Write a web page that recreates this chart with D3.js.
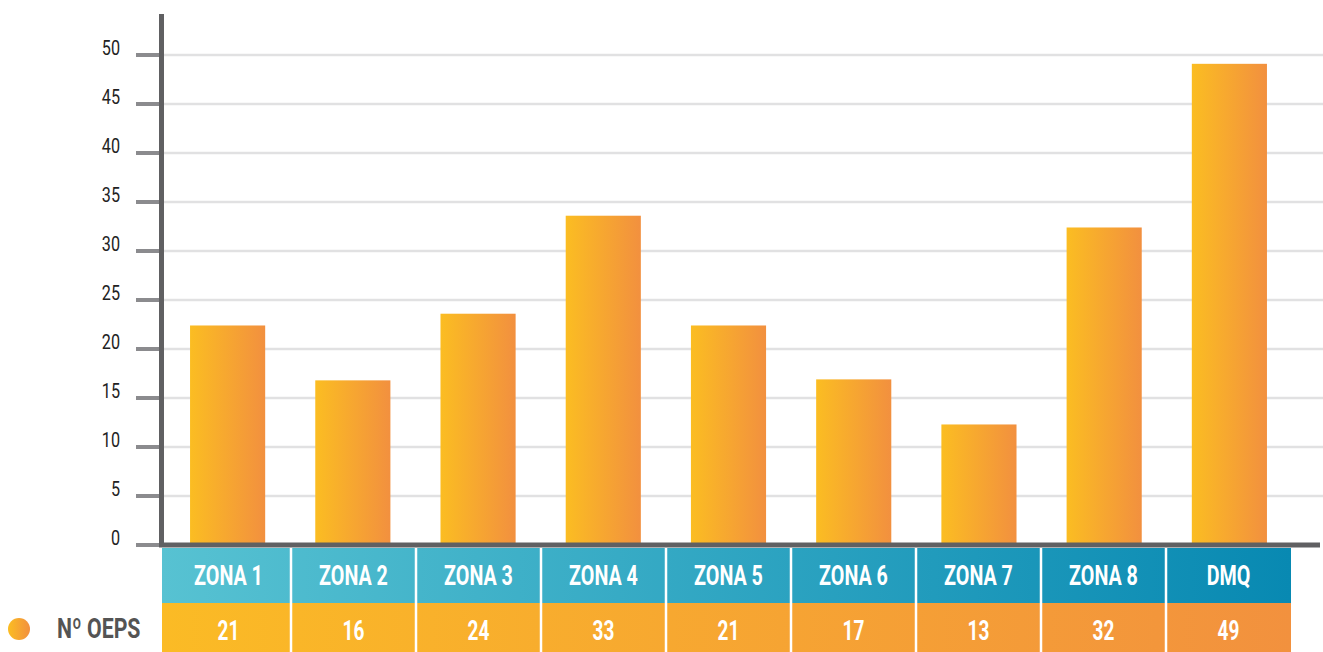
<!DOCTYPE html>
<html>
<head>
<meta charset="utf-8">
<script src="https://cdn.jsdelivr.net/npm/d3@7"></script>
<style>
  body { margin: 0; background: #fff; }
  svg { display: block; }
  text { font-family: Roboto, "Noto Sans", sans-serif; }
</style>
</head>
<body>
<svg width="1323" height="652"></svg>
<script>
// categories and values
const zones = ["ZONA 1", "ZONA 2", "ZONA 3", "ZONA 4", "ZONA 5", "ZONA 6", "ZONA 7", "ZONA 8", "DMQ"];
// table numbers
const oeps = [21, 16, 24, 33, 21, 17, 13, 32, 49];
// bar heights as drawn in the picture (they don't quite follow the table)
const barHeights = [22.4, 16.8, 23.6, 33.6, 22.4, 16.9, 12.3, 32.4, 49.1];
const yTicks = [0, 5, 10, 15, 20, 25, 30, 35, 40, 45, 50];
const seriesName = "Nº OEPS";

let svg = d3.select("svg");
let defs = svg.append("defs");

// gradients
const addGrad = (id, c1, c2) => {
    let g = defs.append("linearGradient").attr("id", id)
        .attr("x1", "0%").attr("x2", "100%").attr("y1", "0%").attr("y2", "0%");
    g.append("stop").attr("offset", "0%").attr("stop-color", c1);
    g.append("stop").attr("offset", "100%").attr("stop-color", c2);
};
addGrad("barGrad", "#fbbd22", "#f2903f");
addGrad("dotGrad", "#fbbd22", "#f2903f");

let left = 162, right = 1291;
// table columns (first one is a bit wider in the original)
let x = d3.scaleBand().domain(zones).range([166, right]).paddingInner(0).paddingOuter(0);
// bars sit slightly right of the column centres
let xBar = d3.scaleBand().domain(zones).range([165, 1292]).paddingInner(0.4).paddingOuter(0.2);
let y = d3.scaleLinear().domain([0, 50]).range([545, 55]);

// header / data row colours run across the whole table
let headGrad = defs.append("linearGradient").attr("id", "headGrad")
    .attr("gradientUnits", "userSpaceOnUse").attr("x1", left).attr("x2", right).attr("y1", 0).attr("y2", 0);
headGrad.append("stop").attr("offset", "0%").attr("stop-color", "#57c2d2");
headGrad.append("stop").attr("offset", "100%").attr("stop-color", "#0889b2");
let rowGrad = defs.append("linearGradient").attr("id", "rowGrad")
    .attr("gradientUnits", "userSpaceOnUse").attr("x1", left).attr("x2", right).attr("y1", 0).attr("y2", 0);
rowGrad.append("stop").attr("offset", "0%").attr("stop-color", "#fbbb25");
rowGrad.append("stop").attr("offset", "100%").attr("stop-color", "#f2913e");

// condensed look: squeeze the text horizontally
const squeeze = (px, py, s) => `translate(${px},${py}) scale(${s},1)`;

// gridlines
svg.append("g")
    .selectAll("line")
    .data(yTicks.filter(d => d > 0))
    .enter()
    .append("line")
        .attr("x1", left).attr("x2", 1323)
        .attr("y1", d => y(d)).attr("y2", d => y(d))
        .attr("stroke", "#e1e1e2").attr("stroke-width", 2.5);

// y axis ticks + labels
let yAxis = svg.append("g");
yAxis.selectAll("line")
    .data(yTicks)
    .enter()
    .append("line")
        .attr("x1", 136).attr("x2", 160)
        .attr("y1", d => y(d)).attr("y2", d => y(d))
        .attr("stroke", "#8b8b8e").attr("stroke-width", 4);
yAxis.selectAll("text")
    .data(yTicks)
    .enter()
    .append("text")
        .attr("transform", d => squeeze(120, y(d), 0.77))
        .attr("text-anchor", "end")
        .attr("font-size", 21)
        .attr("fill", "#222")
        .text(d => d);

// bars
svg.selectAll("rect.bar")
    .data(barHeights)
    .enter()
    .append("rect")
        .attr("class", "bar")
        .attr("x", (d, i) => xBar(zones[i]))
        .attr("width", xBar.bandwidth())
        .attr("y", d => y(d))
        .attr("height", d => y(0) - y(d))
        .style("fill", "url(#barGrad)");

// axis lines
svg.append("line")
    .attr("x1", 161.5).attr("x2", 161.5).attr("y1", 14).attr("y2", 547)
    .attr("stroke", "#606062").attr("stroke-width", 5);
svg.append("line")
    .attr("x1", 159).attr("x2", 1320).attr("y1", 545).attr("y2", 545)
    .attr("stroke", "#606062").attr("stroke-width", 5);

// table
let headTop = 548, headBot = 603, rowBot = 652;
svg.append("rect").attr("x", left).attr("y", headTop).attr("width", right - left)
    .attr("height", headBot - headTop).style("fill", "url(#headGrad)");
svg.append("rect").attr("x", left).attr("y", headBot).attr("width", right - left)
    .attr("height", rowBot - headBot).style("fill", "url(#rowGrad)");

svg.append("g").selectAll("line")
    .data(zones.slice(1))
    .enter()
    .append("line")
        .attr("x1", d => x(d)).attr("x2", d => x(d))
        .attr("y1", headTop).attr("y2", rowBot)
        .attr("stroke", "#fff").attr("stroke-width", 2.5);

svg.append("g").selectAll("text")
    .data(zones)
    .enter()
    .append("text")
        .attr("transform", d => squeeze(x(d) + x.bandwidth() / 2, 585, 0.73))
        .attr("text-anchor", "middle")
        .attr("font-size", 27)
        .attr("font-weight", "bold")
        .attr("fill", "#fff")
        .text(d => d);

svg.append("g").selectAll("text")
    .data(oeps)
    .enter()
    .append("text")
        .attr("transform", (d, i) => squeeze(x(zones[i]) + x.bandwidth() / 2, 640, 0.68))
        .attr("text-anchor", "middle")
        .attr("font-size", 28)
        .attr("font-weight", "bold")
        .attr("fill", "#fff")
        .text(d => d);

// legend
svg.append("circle").attr("cx", 19).attr("cy", 629).attr("r", 11).style("fill", "url(#dotGrad)");
svg.append("text")
    .attr("transform", squeeze(57, 638, 0.76))
    .attr("font-size", 28)
    .attr("font-weight", "bold")
    .attr("fill", "#545454")
    .text(seriesName);
</script>
</body>
</html>
